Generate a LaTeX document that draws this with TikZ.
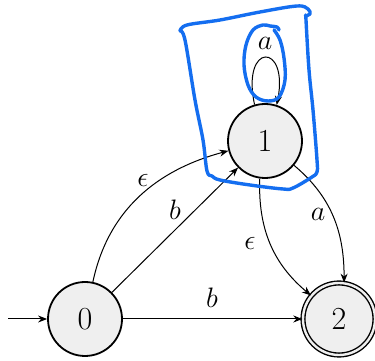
\documentclass[tikz,border=0pt]{standalone}
\usepackage{graphicx}
\usetikzlibrary{arrows.meta}
\definecolor{statefill}{RGB}{239,239,239}
\definecolor{penblue}{RGB}{20,110,240}
\newcommand{\stxt}[1]{\scalebox{1.29}{$#1$}}
\newcommand{\ltxt}[1]{\scalebox{1.13}{$#1$}}
\begin{document}
\begin{tikzpicture}[x=1pt,y=1pt,
  state/.style={circle,draw=black,line width=1.8pt,fill=statefill,minimum size=74pt,inner sep=0pt,font=\Huge},
  accept/.style={state,double=statefill,double distance=2.4pt,line width=1.4pt,minimum size=72pt},
  trans/.style={-{Stealth[length=9pt,width=7pt]},line width=1pt},
  lbl/.style={font=\Huge},
  pen/.style={draw=penblue,line width=3.4pt,line cap=round,line join=round}]
\useasboundingbox (0,0) rectangle (375,361);
\node[state] (n0) at (85,42) {\stxt{0}};
\node[state] (n1) at (265,220) {\stxt{1}};
\node[accept] (n2) at (339,42) {\stxt{2}};
\coordinate (start) at (8,42);
\draw[trans] (start) -- (n0);
\draw[trans] (n0.78) to[out=78,in=195] (n1.195);
\draw[trans] (n0) -- (n1);
\draw[trans] (n0) -- (n2);
\draw[trans] (n1.262) to[out=268,in=140] (n2.140);
\draw[trans] (n1.320) to[out=-40,in=90] (n2.82);
\draw[trans] (n1.106) .. controls (241,319) and (289,319) .. (n1.72);
\node[lbl] (l1) at (143,181) {\ltxt{\epsilon}};
\node[lbl] (l2) at (175,151) {\ltxt{b}};
\node[lbl] (l3) at (212,63) {\ltxt{b}};
\node[lbl] (l4) at (250,118) {\ltxt{\epsilon}};
\node[lbl] (l5) at (318,147) {\ltxt{a}};
\node[lbl] (l6) at (265,318) {\ltxt{a}};
% hand-drawn blue annotations
\draw[pen] plot[smooth,tension=0.6] coordinates {(180,330) (187,336) (220,341) (260,349) (297,355) (308,352) (310,347) (306,345) (306,341) (309,291) (313,251) (317,201) (317,189) (312,184) (293,173) (283,172) (250,176) (220,181) (212,185) (207,190) (203,221) (195,261) (185,321) (180,330)};
\draw[pen] plot[smooth,tension=0.6] coordinates {(279,331) (277,334) (270,335) (263,336) (253,331) (246,316) (244,296) (248,276) (256,264) (268,260) (279,264) (285,281) (284,303) (280,321) (274,331)};
\end{tikzpicture}
\end{document}
